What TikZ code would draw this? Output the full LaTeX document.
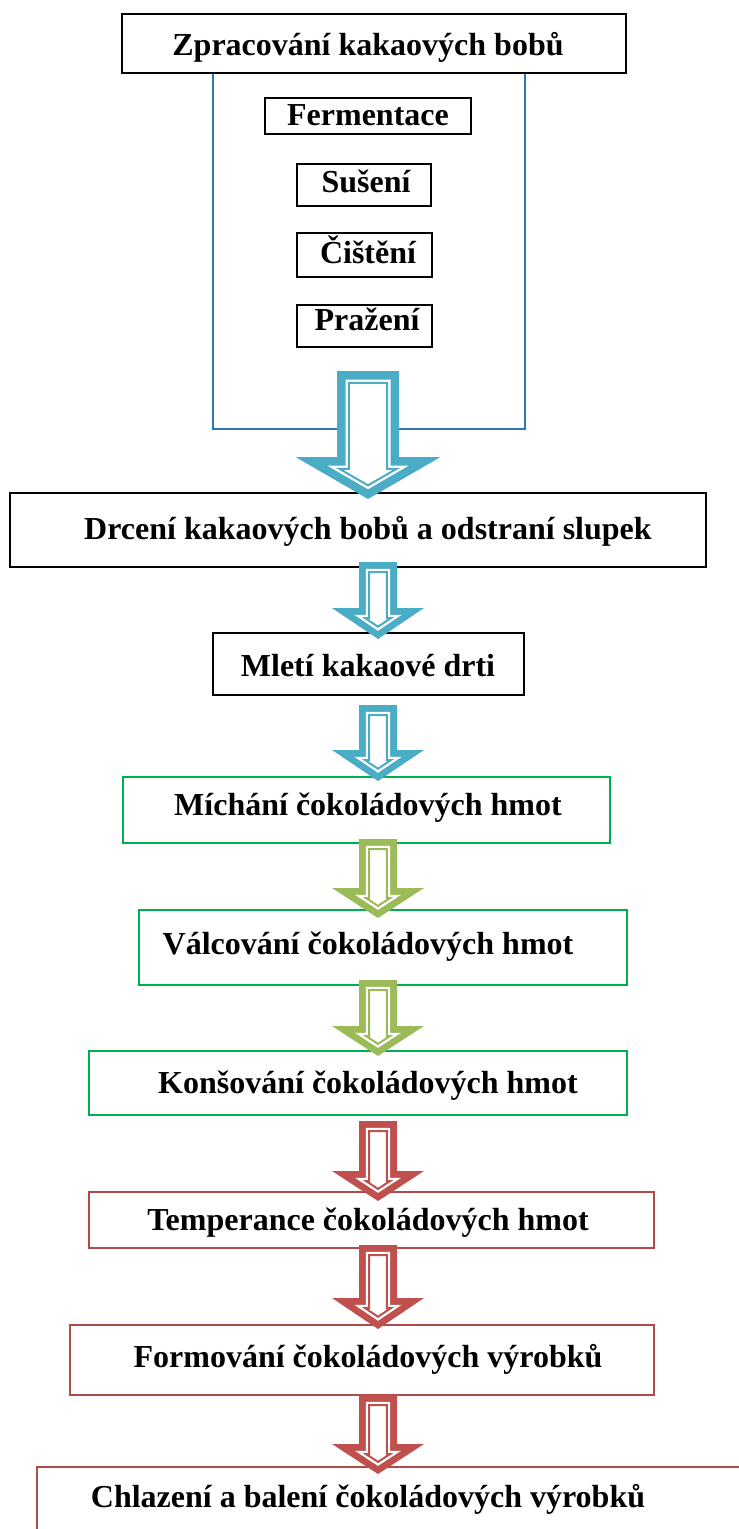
\documentclass[tikz,border=0pt]{standalone}
\usepackage{fontspec}
\setmainfont{Liberation Serif}
\usetikzlibrary{fit}
\definecolor{arrblue}{HTML}{4BACC6}
\definecolor{arrgreen}{HTML}{9BBB59}
\definecolor{arrred}{HTML}{C0504D}
\definecolor{contblue}{HTML}{2E75B6}
\definecolor{boxgreen}{HTML}{00B050}
\definecolor{boxred}{HTML}{B24A47}
\newcommand\lblfont{\fontsize{32}{38}\selectfont\bfseries}
% inset geometry of a block arrow (pixel coords, y down)
\newcommand\faCalc[1]{%
  \pgfmathsetmacro\faD{#1}%
  \pgfmathsetmacro\faS{sqrt(\faHH*\faHH+\faL*\faL)}%
  \pgfmathsetmacro\faDel{\faD*\faS/\faHH}%
  \pgfmathsetmacro\faWi{\faHW-\faD}%
  \pgfmathsetmacro\faTi{\faTop+\faD}%
  \pgfmathsetmacro\faBi{\faTip-\faL+\faD}%
  \pgfmathsetmacro\faHi{(\faL-\faDel-\faD)*\faHH/\faL}%
  \pgfmathsetmacro\faPi{\faTip-\faDel}%
}
\newcommand\faPath{(\faX-\faWi,\faTi) -- (\faX+\faWi,\faTi) -- (\faX+\faWi,\faBi) -- (\faX+\faHi,\faBi) -- (\faX,\faPi) -- (\faX-\faHi,\faBi) -- (\faX-\faWi,\faBi) -- cycle}
% #1 colour, #2 source node, #3 target node, #4 start above source south,
% #5 tip below target north, #6 centre x, #7 shaft half width, #8 head half width, #9 head length
\newcommand\flowarrow[9]{%
  \pgfpointanchor{#2}{south}\pgfgetlastxy{\faAx}{\faAy}%
  \pgfpointanchor{#3}{north}\pgfgetlastxy{\faBx}{\faBy}%
  \pgfmathsetmacro\faTop{0-(\faAy)-(#4)}%
  \pgfmathsetmacro\faTip{0-(\faBy)+(#5)}%
  \pgfmathsetmacro\faX{#6}%
  \pgfmathsetmacro\faHW{#7}%
  \pgfmathsetmacro\faHH{#8}%
  \pgfmathsetmacro\faL{#9}%
  \pgfmathsetmacro\faBand{min(\faHW*0.36,8.5)}%
  \faCalc{0}\fill[#1] \faPath;
  \faCalc{\faBand}\fill[white] \faPath;
  \faCalc{\faBand+3.3}\draw[#1, line width=2pt, line join=miter] \faPath;
}
\tikzset{
  anybox/.style={inner sep=0pt, outer sep=0pt, fill=none},
  blkbox/.style={anybox, draw=black, line width=2pt},
  smallbox/.style={anybox, draw=black, line width=1.8pt},
  contbox/.style={anybox, draw=contblue, line width=1.6pt},
  grnbox/.style={anybox, draw=boxgreen, line width=2pt},
  redbox/.style={anybox, draw=boxred, line width=1.6pt},
  lbl/.style={font=\lblfont, inner sep=0pt, anchor=base}
}
\begin{document}
\begin{tikzpicture}[x=1pt, y=-1pt]
\useasboundingbox (0,0) rectangle (739,1529);
\clip (0,0) rectangle (739,1529);
% boxes
\node[contbox, fit={(213,73) (525,429)}] (cont) {};
\node[blkbox, fit={(122,14) (626,73)}] (top) {};
\node[smallbox, fit={(265,98) (471,134)}] (ferm) {};
\node[smallbox, fit={(297,164) (431,206)}] (sus) {};
\node[smallbox, fit={(297,233) (432,277)}] (cist) {};
\node[smallbox, fit={(297,305) (432,347)}] (praz) {};
\node[blkbox, fit={(10,493) (706,567)}] (drc) {};
\node[blkbox, fit={(213,633) (524,695)}] (mlet) {};
\node[grnbox, fit={(123,777) (610,843)}] (mich) {};
\node[grnbox, fit={(139,910) (627,985)}] (valc) {};
\node[grnbox, fit={(89,1051) (627,1115)}] (kons) {};
\node[redbox, fit={(89,1192) (654,1248)}] (temp) {};
\node[redbox, fit={(70,1325) (654,1395)}] (form) {};
\node[redbox, fit={(37,1467) (790,1580)}] (chl) {};
% texts
\node[lbl] (ttop) at (368,55) {Zpracování kakaových bobů};
\node[lbl] (tferm) at (368,125) {Fermentace};
\node[lbl] (tsus) at (366,192) {Sušení};
\node[lbl] (tcist) at (368,263) {Čištění};
\node[lbl] (tpraz) at (367,330) {Pražení};
\node[lbl] (tdrc) at (368,539) {Drcení kakaových bobů a odstraní slupek};
\node[lbl] (tmlet) at (368,676) {Mletí kakaové drti};
\node[lbl] (tmich) at (368,815) {Míchání čokoládových hmot};
\node[lbl] (tvalc) at (368,954) {Válcování čokoládových hmot};
\node[lbl] (tkons) at (368,1093) {Konšování čokoládových hmot};
\node[lbl] (ttemp) at (368,1230) {Temperance čokoládových hmot};
\node[lbl] (tform) at (368,1367) {Formování čokoládových výrobků};
\node[lbl] (tchl) at (368,1507) {Chlazení a balení čokoládových výrobků};
% block arrows
\flowarrow{arrblue}{cont}{drc}{58}{6}{368}{31}{72.5}{42}
\flowarrow{arrblue}{drc}{mlet}{5}{6}{378}{19}{46}{31}
\flowarrow{arrblue}{mlet}{mich}{-10}{4}{378}{19}{46}{31}
\flowarrow{arrgreen}{mich}{valc}{4}{8}{378}{19}{46}{30}
\flowarrow{arrgreen}{valc}{kons}{5}{5}{378}{19}{46}{30}
\flowarrow{arrred}{kons}{temp}{-6}{9}{378}{19}{46}{30}
\flowarrow{arrred}{temp}{form}{3}{4}{378}{19}{46}{31}
\flowarrow{arrred}{form}{chl}{0}{7}{378}{19}{46}{30}
\end{tikzpicture}
\end{document}
